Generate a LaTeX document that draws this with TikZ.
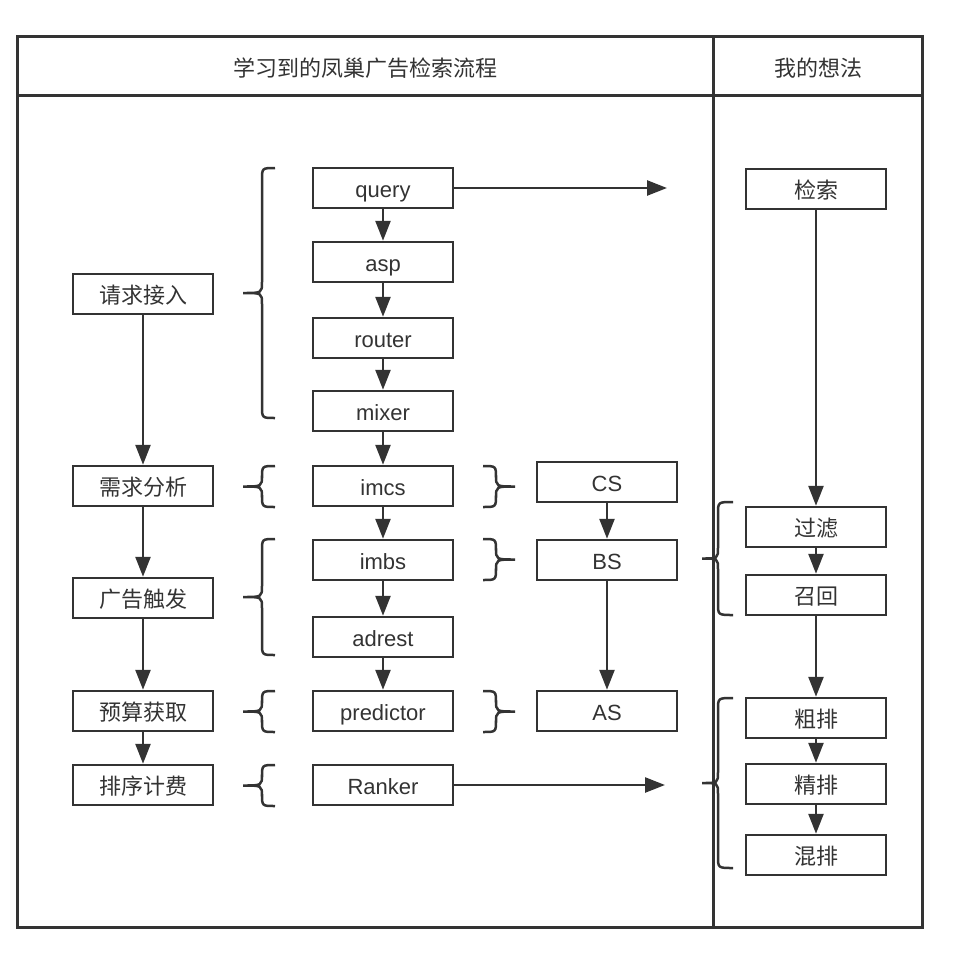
\documentclass[tikz,border=0pt]{standalone}
\usepackage{fontspec}
\setmainfont{Liberation Sans}
\newfontfamily\cjk{Noto Sans CJK SC}
\usetikzlibrary{arrows.meta}
\definecolor{ink}{HTML}{333333}
\newcommand{\cbrace}[5]{% #1 end x, #2 mid x, #3 tip x, #4 top y, #5 bottom y
  \draw[bracel] (#1,#4) .. controls (#2,#4) .. (#2,{#4+12}) -- (#2,{(#4+#5)/2-11})
    .. controls (#2,{(#4+#5)/2}) .. (#3,{(#4+#5)/2})
    .. controls (#2,{(#4+#5)/2}) .. (#2,{(#4+#5)/2+11}) -- (#2,{#5-12})
    .. controls (#2,#5) .. (#1,#5);}
\begin{document}
\begin{tikzpicture}[x=1pt,y=-1pt,
  box/.style={draw=ink,line width=2.5pt,minimum width=140pt,minimum height=40pt,inner sep=0pt,text height=18pt,text depth=0pt,text=ink,font=\fontsize{22}{26}\selectfont},
  cbox/.style={box,font=\fontsize{22}{26}\selectfont\cjk},
  flow/.style={draw=ink,line width=2.5pt,-{Triangle[length=20pt,width=15pt]}},
  bracel/.style={draw=ink,line width=2.5pt},
  frame/.style={draw=ink,line width=3pt},
  head/.style={text=ink,text height=18pt,text depth=0pt,inner sep=0pt,font=\fontsize{22}{26}\selectfont\cjk}]
\useasboundingbox (0,0) rectangle (959,962);
% frame
\draw[frame] (17,36) rectangle (922,927);
\draw[frame] (17,95) -- (922,95);
\draw[frame] (713,36) -- (713,927);
\node[head] (h1) at (365,67) {学习到的凤巢广告检索流程};
\node[head] (h2) at (818,67) {我的想法};
% left column
\node[cbox] (qqjr) at (143,294) {请求接入};
\node[cbox] (xqfx) at (143,486) {需求分析};
\node[cbox] (ggcf) at (143,598) {广告触发};
\node[cbox] (ysqh) at (143,711) {预算获取};
\node[cbox] (pxjf) at (143,785) {排序计费};
% middle column
\node[box] (query) at (383,188) {query};
\node[box] (asp) at (383,262) {asp};
\node[box] (router) at (383,338) {router};
\node[box] (mixer) at (383,411) {mixer};
\node[box] (imcs) at (383,486) {imcs};
\node[box] (imbs) at (383,560) {imbs};
\node[box] (adrest) at (383,637) {adrest};
\node[box] (predictor) at (383,711) {predictor};
\node[box] (ranker) at (383,785) {Ranker};
% right column
\node[box] (cs) at (607,482) {CS};
\node[box] (bs) at (607,560) {BS};
\node[box] (as) at (607,711) {AS};
% idea column
\node[cbox] (js) at (816,189) {检索};
\node[cbox] (gl) at (816,527) {过滤};
\node[cbox] (zh) at (816,595) {召回};
\node[cbox] (cp) at (816,718) {粗排};
\node[cbox] (jp) at (816,784) {精排};
\node[cbox] (hp) at (816,855) {混排};
\coordinate (qend) at (667,188);
\coordinate (rend) at (665,785);
% connectors
\draw[flow] (qqjr) -- (xqfx);
\draw[flow] (xqfx) -- (ggcf);
\draw[flow] (ggcf) -- (ysqh);
\draw[flow] (ysqh) -- (pxjf);
\draw[flow] (query) -- (asp);
\draw[flow] (asp) -- (router);
\draw[flow] (router) -- (mixer);
\draw[flow] (mixer) -- (imcs);
\draw[flow] (imcs) -- (imbs);
\draw[flow] (imbs) -- (adrest);
\draw[flow] (adrest) -- (predictor);
\draw[flow] (cs) -- (bs);
\draw[flow] (bs) -- (as);
\draw[flow] (js) -- (gl);
\draw[flow] (gl) -- (zh);
\draw[flow] (zh) -- (cp);
\draw[flow] (cp) -- (jp);
\draw[flow] (jp) -- (hp);
\draw[flow] (query) -- (qend);
\draw[flow] (ranker) -- (rend);
% braces
\cbrace{275}{262}{243}{168}{418}
\cbrace{275}{262}{243}{466}{507}
\cbrace{275}{262}{243}{539}{655}
\cbrace{275}{262}{243}{691}{732}
\cbrace{275}{262}{243}{765}{806}
\cbrace{483}{496}{515}{466}{507}
\cbrace{483}{496}{515}{539}{580}
\cbrace{483}{496}{515}{691}{732}
\cbrace{733}{718}{702}{502}{615}
\cbrace{733}{718}{702}{698}{868}
\end{tikzpicture}
\end{document}
